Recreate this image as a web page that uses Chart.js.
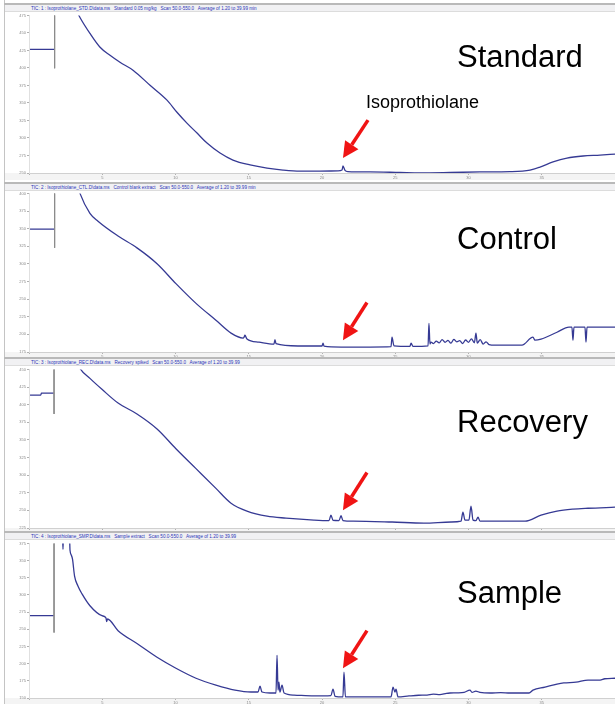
<!DOCTYPE html>
<html>
<head>
<meta charset="utf-8">
<script src="https://cdn.jsdelivr.net/npm/chart.js@4.4.1/dist/chart.umd.min.js"></script>
<style>
  body { margin: 0; background: #fff; }
  #page { position: relative; width: 615px; height: 704px; overflow: hidden; font-family: "Liberation Sans", Arial, sans-serif; }
  .sep { position: absolute; left: 4px; width: 611px; height: 2px; background: #b9b9b9; }
  .head { position: absolute; left: 5px; width: 610px; height: 7px; background: #f1f1f3; border-bottom: 1px solid #dcdcdc; box-sizing: border-box;
          font-size: 4.6px; line-height: 7px; color: #2b35b8; padding-left: 26px; white-space: nowrap; overflow: hidden; }
  .strip { position: absolute; left: 5px; width: 610px; height: 7px; background: #f4f4f4; }
  .box { position: absolute; left: 5px; width: 610px; }
  .leftline { position: absolute; left: 4px; top: 0; width: 1px; height: 704px; background: #c4c4c4; }
  .name { position: absolute; left: 457px; font-size: 31px; line-height: 31px; color: #000; white-space: nowrap; }
  .cmp { position: absolute; left: 366px; top: 93px; font-size: 18px; line-height: 18px; color: #000; }
</style>
</head>
<body>
<div id="page">
  <div class="leftline"></div>

  <div class="sep" style="top:3px"></div>
  <div class="head" style="top:5px">TIC: 1 : Isoprothiolane_STD.D\data.ms &nbsp; Standard 0.05 mg/kg &nbsp; Scan 50.0-550.0 &nbsp; Average of 1.20 to 39.99 min</div>
  <div class="strip" style="top:173px"></div>
  <div class="box" style="top:12px;height:168px"><canvas id="c1"></canvas></div>

  <div class="sep" style="top:182px"></div>
  <div class="head" style="top:184px">TIC: 2 : Isoprothiolane_CTL.D\data.ms &nbsp; Control blank extract &nbsp; Scan 50.0-550.0 &nbsp; Average of 1.20 to 39.99 min</div>
  <div class="strip" style="top:352px"></div>
  <div class="box" style="top:190px;height:169px"><canvas id="c2"></canvas></div>

  <div class="sep" style="top:357px"></div>
  <div class="head" style="top:359px">TIC: 3 : Isoprothiolane_REC.D\data.ms &nbsp; Recovery spiked &nbsp; Scan 50.0-550.0 &nbsp; Average of 1.20 to 39.99</div>
  <div class="strip" style="top:528px"></div>
  <div class="box" style="top:366px;height:169px"><canvas id="c3"></canvas></div>

  <div class="sep" style="top:531px"></div>
  <div class="head" style="top:533px">TIC: 4 : Isoprothiolane_SMP.D\data.ms &nbsp; Sample extract &nbsp; Scan 50.0-550.0 &nbsp; Average of 1.20 to 39.99</div>
  <div class="strip" style="top:698px"></div>
  <div class="box" style="top:540px;height:164px"><canvas id="c4"></canvas></div>

  <div class="name" style="top:41px">Standard</div>
  <div class="cmp">Isoprothiolane</div>
  <div class="name" style="top:223px">Control</div>
  <div class="name" style="top:406px">Recovery</div>
  <div class="name" style="top:577px">Sample</div>
</div>

<script>
// retention time (min) and relative abundance
const stdTime   = [0.07, 1.71, 2.0, 3.14, 3.48, 4.16, 4.85, 5.53, 6.21, 7.10, 8.26, 9.42, 10.10, 10.78, 11.47, 12.15, 13.04, 13.92, 15.09, 16.25, 17.34, 18.50, 19.86, 21.09, 21.37, 21.43, 21.57, 21.77, 23.28, 25.32, 26.69, 28.74, 30.78, 32.83, 34.20, 34.88, 35.77, 36.72, 37.82, 38.98, 40.00];
const stdSignal = [7.06, 7.06, null, 9.45, 8.88, 7.97, 7.18, 6.72, 6.32, 5.87, 5.01, 4.16, 3.47, 2.85, 2.28, 1.71, 1.14, 0.74, 0.46, 0.28, 0.17, 0.11, 0.11, 0.12, 0.17, 0.40, 0.15, 0.08, 0.06, 0.03, 0.01, 0.03, 0.06, 0.08, 0.17, 0.34, 0.63, 0.85, 0.97, 1.02, 1.08];

const ctlTime   = [0.07, 1.71, 2.0, 3.34, 3.48, 4.16, 4.71, 6.08, 7.37, 8.74, 10.03, 11.40, 12.76, 13.79, 14.61, 14.68, 14.74, 14.88, 15.70, 16.72, 16.79, 16.86, 18.36, 20.00, 20.07, 20.14, 21.30, 23.28, 24.71, 24.78, 24.91, 26.00, 26.08, 26.21, 27.24, 27.30, 27.37, 27.44,
                   27.6, 27.8, 28.0, 28.2, 28.4, 28.6, 28.8, 29.0, 29.2, 29.4, 29.6, 29.8, 30.0, 30.2, 30.4, 30.51, 30.6, 30.8, 31.0, 31.2, 31.4, 31.81, 33.65, 34.40, 34.54, 34.95, 36.04, 36.86, 37.06, 37.13, 37.20, 37.95, 38.02, 38.09, 40.00];
const ctlSignal = [6.97, 6.97, null, 9.40, 9.00, 7.87, 7.42, 6.58, 5.91, 5.01, 3.88, 2.76, 1.80, 1.07, 0.79, 0.84, 0.95, 0.74, 0.56, 0.45, 0.70, 0.47, 0.34, 0.34, 0.50, 0.33, 0.28, 0.28, 0.30, 0.84, 0.35, 0.32, 0.50, 0.32, 0.35, 1.63, 0.45, 0.56,
                   0.48, 0.62, 0.52, 0.70, 0.55, 0.66, 0.50, 0.72, 0.58, 0.64, 0.48, 0.68, 0.55, 0.75, 0.52, 1.07, 0.50, 0.70, 0.45, 0.58, 0.42, 0.39, 0.39, 0.84, 0.67, 0.73, 1.12, 1.41, 1.41, 0.67, 1.41, 1.41, 0.56, 1.41, 1.41];

const recTime   = [0.07, 0.80, 0.85, 1.71, 2.0, 3.28, 3.48, 4.16, 4.98, 6.08, 7.37, 8.74, 10.03, 11.40, 12.76, 13.79, 14.88, 16.25, 17.54, 19.45, 20.48, 20.61, 20.75, 21.16, 21.30, 21.43, 22.12, 24.78, 26.96, 28.81, 29.49, 29.62, 29.76, 30.03, 30.17, 30.31, 30.51, 30.65, 30.78, 33.86, 34.95, 36.04, 37.13, 38.16, 40.00];
const recSignal = [7.54, 7.54, 7.65, 7.65, null, 9.45, 9.06, 8.49, 7.87, 7.09, 6.47, 5.62, 4.50, 3.37, 2.25, 1.41, 0.96, 0.67, 0.56, 0.45, 0.42, 0.73, 0.44, 0.42, 0.70, 0.42, 0.39, 0.34, 0.28, 0.34, 0.39, 0.90, 0.45, 0.45, 1.24, 0.45, 0.42, 0.62, 0.39, 0.39, 0.73, 0.96, 1.07, 1.12, 1.18];

const smpTime   = [0.07, 1.71, 2.0, 2.29, 2.32, 2.35, 2.76, 2.80, 2.90, 2.97, 3.11, 3.34, 3.62, 4.16, 4.98, 5.26, 5.30, 5.36, 6.08, 7.37, 8.74, 10.03, 11.40, 12.76, 14.06, 15.15, 15.63, 15.77, 15.90, 16.45, 16.86, 16.93, 17.00, 17.06, 17.13, 17.27, 17.41, 18.09, 19.45, 20.61, 20.75, 20.89, 21.43, 21.50, 21.60,
                   22.12, 23.41, 24.71, 24.85, 24.98, 25.05, 25.19, 25.94, 26.6, 27.17, 27.6, 28.05, 28.5, 28.74, 29.2, 29.70, 30.10, 30.24, 30.5, 30.78, 31.47, 32.2, 32.83, 34.13, 34.40, 35.22, 36.04, 36.5, 37.34, 38.16, 38.98, 39.3, 40.00];
const smpSignal = [4.79, 4.79, null, 9.5, 8.66, 9.5, 9.5, 8.60, 8.30, 8.08, 7.10, 6.52, 6.06, 5.37, 4.79, 4.65, 4.45, 4.60, 3.92, 3.17, 2.37, 1.73, 1.15, 0.75, 0.46, 0.35, 0.35, 0.69, 0.35, 0.29, 0.29, 2.48, 0.46, 0.92, 0.35, 0.75, 0.29, 0.17, 0.12, 0.14, 0.52, 0.10, 0.06, 1.50, 0.06,
                   0.06, 0.06, 0.06, 0.63, 0.35, 0.52, 0.06, 0.12, 0.16, 0.17, 0.22, 0.20, 0.27, 0.29, 0.30, 0.33, 0.46, 0.33, 0.40, 0.33, 0.29, 0.31, 0.29, 0.29, 0.46, 0.63, 0.81, 0.88, 0.92, 1.04, 1.04, 1.12, 1.15];

// solvent delay marker: [time, lower end]
const stdMarker = [1.75, 5.98];
const ctlMarker = [1.75, 5.91];
const recMarker = [1.71, 6.47];
const smpMarker = [1.71, 3.81];

// arrow pointing at the isoprothiolane peak: [tailTime, tailValue, tipTime, tipValue]
const stdArrow = [23.14, 3.02, 21.43, 0.85];
const ctlArrow = [23.07, 2.81, 21.43, 0.67];
const recArrow = [23.07, 3.15, 21.43, 1.01];
const smpArrow = [23.07, 3.92, 21.43, 1.73];

const xTickLabels = ['', '5', '10', '15', '20', '25', '30', '35', ''];
const stdYTicks = ['250', '275', '300', '325', '350', '375', '400', '425', '450', '475'];
const ctlYTicks = ['175', '200', '225', '250', '275', '300', '325', '350', '375', '400'];
const recYTicks = ['225', '250', '275', '300', '325', '350', '375', '400', '425', '450'];
const smpYTicks = ['150', '175', '200', '225', '250', '275', '300', '325', '350', '375'];

const arrowPlugin = {
  id: 'arrow',
  afterDatasetsDraw(chart, args, opts) {
    const a = opts.points;
    if (!a) return;
    const xs = chart.scales.x, ys = chart.scales.y;
    const x0 = xs.getPixelForValue(a[0]), y0 = ys.getPixelForValue(a[1]);
    const x1 = xs.getPixelForValue(a[2]), y1 = ys.getPixelForValue(a[3]);
    const ang = Math.atan2(y1 - y0, x1 - x0);
    const headLen = 16, headHalf = 8;
    const bx = x1 - headLen * Math.cos(ang), by = y1 - headLen * Math.sin(ang);
    const c = chart.ctx;
    c.save();
    c.strokeStyle = '#f01414';
    c.fillStyle = '#f01414';
    c.lineWidth = 3.5;
    c.beginPath();
    c.moveTo(x0, y0);
    c.lineTo(bx, by);
    c.stroke();
    c.beginPath();
    c.moveTo(x1, y1);
    c.lineTo(bx + headHalf * Math.sin(ang), by - headHalf * Math.cos(ang));
    c.lineTo(bx - headHalf * Math.sin(ang), by + headHalf * Math.cos(ang));
    c.closePath();
    c.fill();
    c.restore();
  }
};

function makePanel(id, time, signal, marker, arrow, yTicks, xHeight) {
  const trace = time.map((t, i) => ({ x: t, y: signal[i] }));
  new Chart(document.getElementById(id), {
    type: 'line',
    data: {
      datasets: [
        { data: [{ x: marker[0], y: 9.5 }, { x: marker[0], y: marker[1] }], borderColor: '#8c8c8c', borderWidth: 1, pointRadius: 0 },
        { data: trace, borderColor: '#363a94', borderWidth: 1.3, pointRadius: 0, cubicInterpolationMode: 'monotone', spanGaps: false }
      ]
    },
    options: {
      responsive: true,
      maintainAspectRatio: false,
      animation: false,
      layout: { padding: 0 },
      plugins: { legend: { display: false }, tooltip: { enabled: false }, arrow: { points: arrow } },
      scales: {
        x: {
          type: 'linear', min: 0, max: 40,
          afterFit(s) { s.height = xHeight; },
          ticks: { stepSize: 5, autoSkip: false, maxRotation: 0, padding: 0, font: { size: 4 }, color: '#8a8a8a',
                   callback: (v) => xTickLabels[Math.round(v / 5)] },
          grid: { drawOnChartArea: false, tickLength: 2, color: '#b0b0b0' },
          border: { color: '#d0d0d0' }
        },
        y: {
          min: 0, max: 9,
          afterFit(s) { s.width = 24; },
          ticks: { stepSize: 1, autoSkip: false, padding: 1, font: { size: 4 }, color: '#8a8a8a',
                   callback: (v) => yTicks[v] },
          grid: { drawOnChartArea: false, tickLength: 2, color: '#b0b0b0' },
          border: { color: '#e0e0e0' }
        }
      }
    },
    plugins: [arrowPlugin]
  });
}

makePanel('c1', stdTime, stdSignal, stdMarker, stdArrow, stdYTicks, 7);
makePanel('c2', ctlTime, ctlSignal, ctlMarker, ctlArrow, ctlYTicks, 7);
makePanel('c3', recTime, recSignal, recMarker, recArrow, recYTicks, 7);
makePanel('c4', smpTime, smpSignal, smpMarker, smpArrow, smpYTicks, 6);
</script>
</body>
</html>
